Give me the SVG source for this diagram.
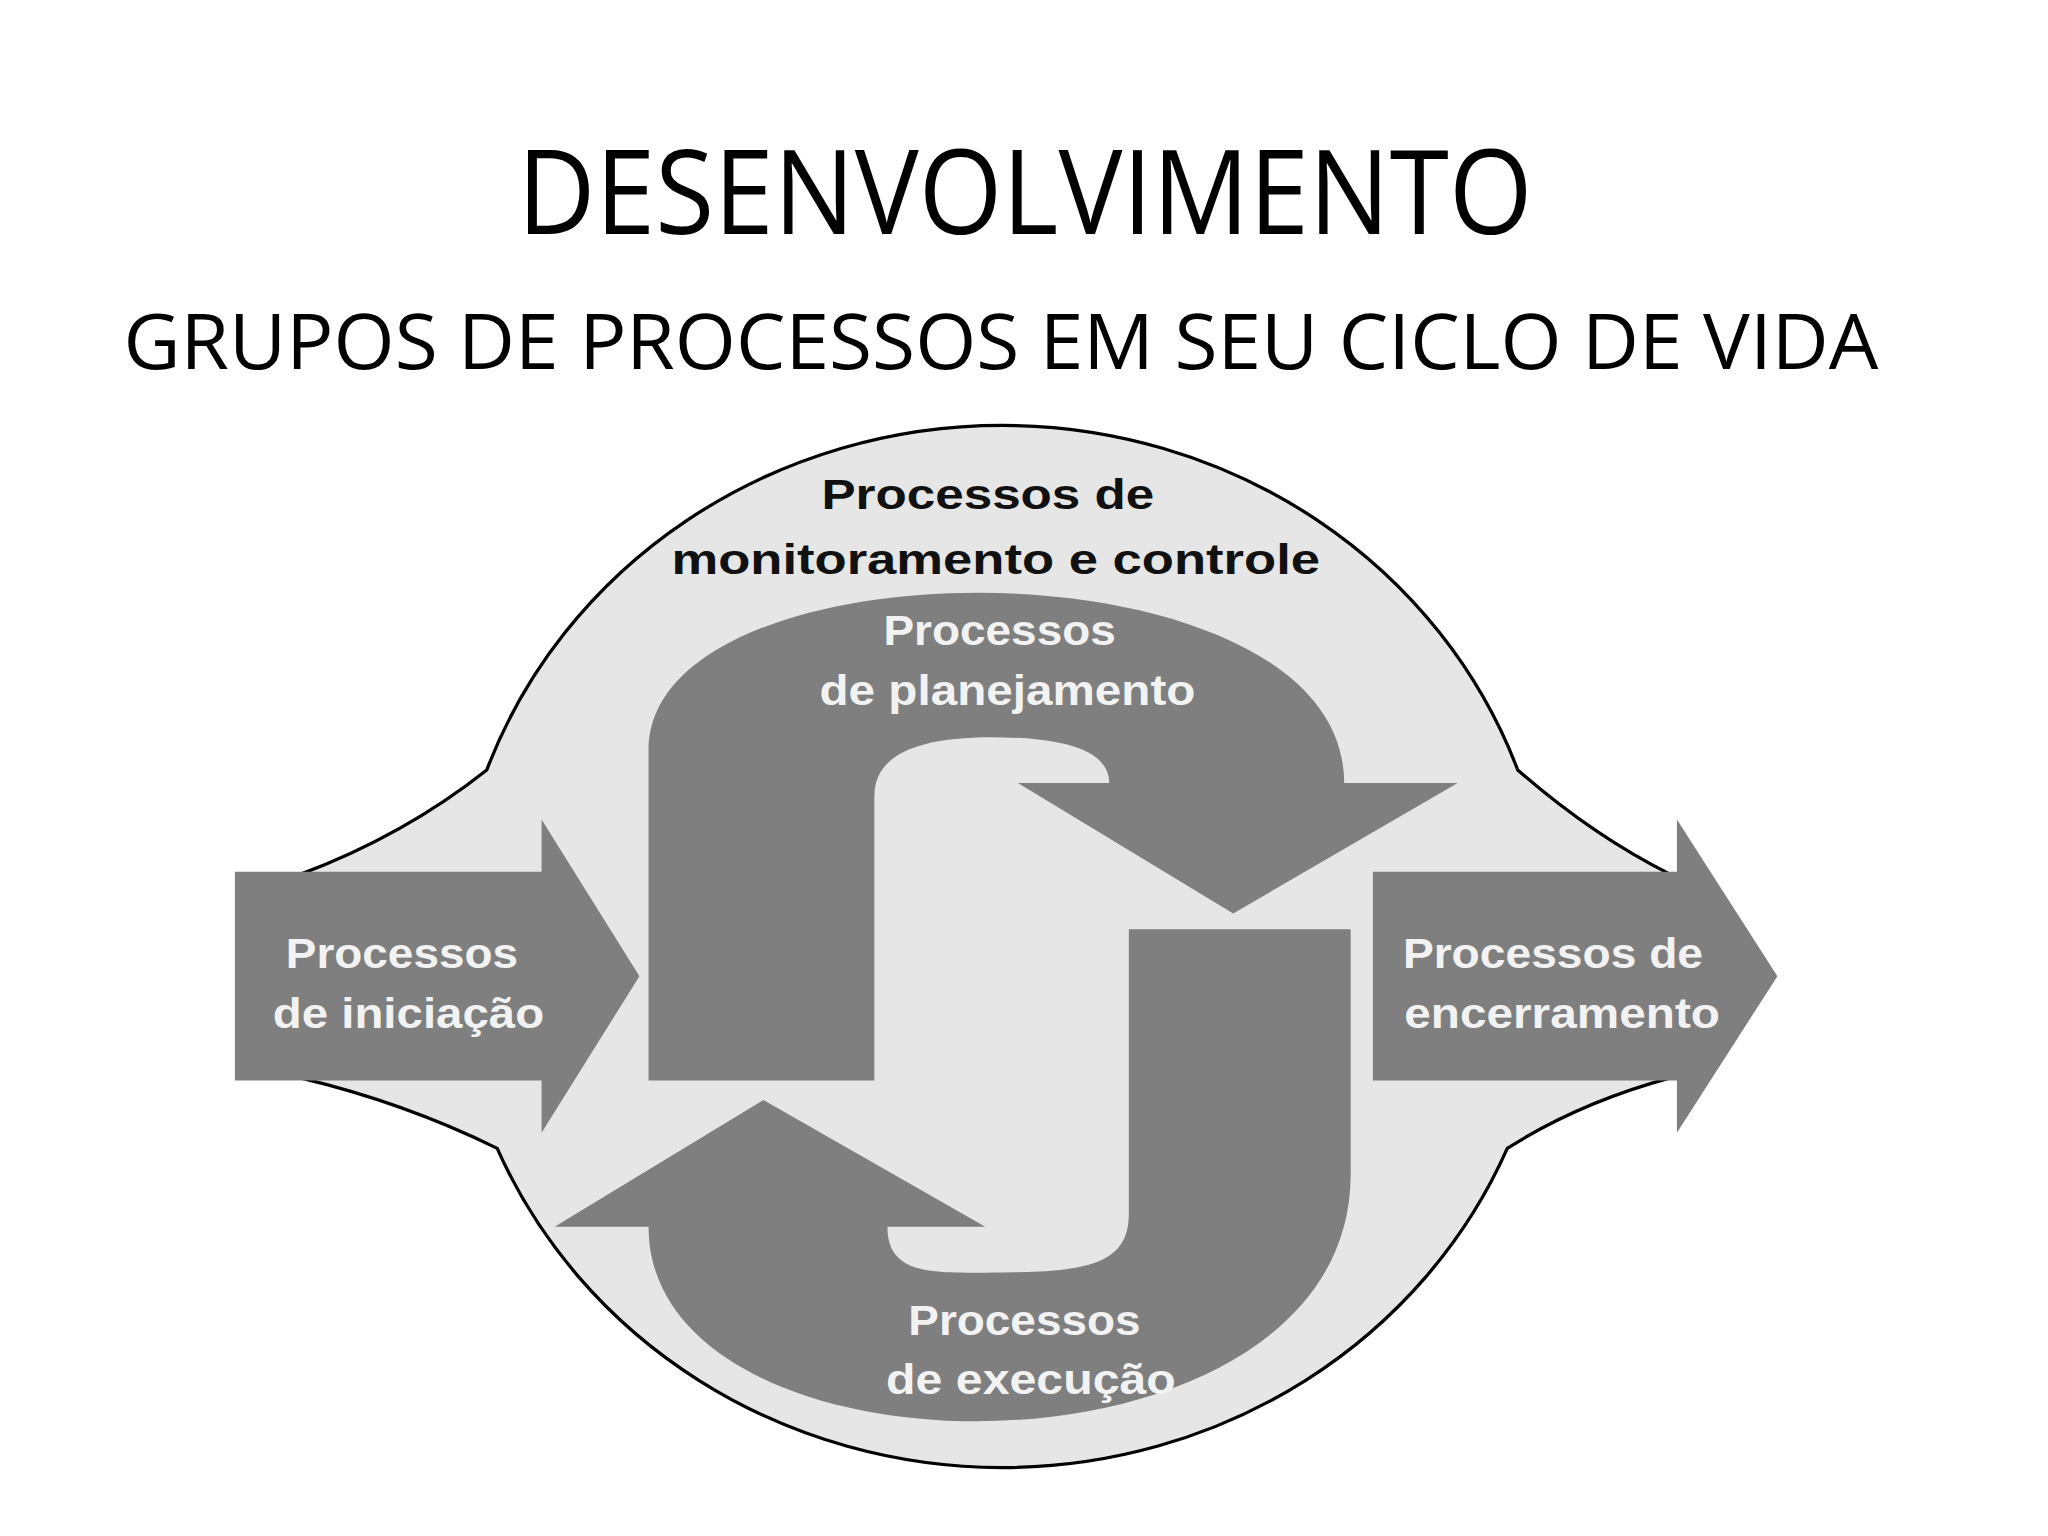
<svg xmlns="http://www.w3.org/2000/svg" width="2048" height="1536" viewBox="0 0 2048 1536">
<style>
.t{font-family:"Open Sans","DejaVu Sans",sans-serif;fill:#000;text-anchor:middle}
.l{font-family:"Liberation Sans",Arial,sans-serif;font-weight:bold;font-size:32px;text-anchor:middle;fill:#f2f2f2}
.g{fill:#7f7f7f}
</style>
<rect width="2048" height="1536" fill="#fff"/>
<text class="t" x="1025" y="234" font-size="118" textLength="1015" lengthAdjust="spacingAndGlyphs">DESENVOLVIMENTO</text>
<text class="t" x="1001" y="369" font-size="76" textLength="1755" lengthAdjust="spacingAndGlyphs">GRUPOS DE PROCESSOS EM SEU CICLO DE VIDA</text>
<g transform="scale(1.305)">
<g id="ciclo">
<path d="M230,670 Q310,640 373,590 A420,400 0 0 1 1163,590 Q1220,640 1280,670 L1280,826 Q1210,845 1155,880 A420,400 0 0 1 381,880 Q310,845 230,826 Z" fill="#e6e6e6" stroke="#000" stroke-width="2.5"/>
<text class="l" x="757" y="390" style="fill:#111" textLength="255" lengthAdjust="spacingAndGlyphs">Processos de</text>
<text class="l" x="763" y="440" style="fill:#111" textLength="497" lengthAdjust="spacingAndGlyphs">monitoramento e controle</text>
</g>
<g id="iniciacao">
<path class="g" d="M180,668 L415,668 L415,628 L490,748 L415,868 L415,828 L180,828 Z"/>
<text class="l" x="308" y="742" textLength="178" lengthAdjust="spacingAndGlyphs">Processos</text>
<text class="l" x="313" y="788" textLength="208" lengthAdjust="spacingAndGlyphs">de iniciação</text>
</g>
<g id="encerramento">
<path class="g" d="M1052,668 L1285,668 L1285,628 L1362,748 L1285,868 L1285,828 L1052,828 Z"/>
<text class="l" x="1190" y="742" textLength="230" lengthAdjust="spacingAndGlyphs">Processos de</text>
<text class="l" x="1197" y="788" textLength="242" lengthAdjust="spacingAndGlyphs">encerramento</text>
</g>
<g id="planejamento">
<path class="g" d="M497,828 L497,575 C497,410 1030,410 1030,600 L1117,600 L945,700 L780,600 L850,600 C850,570 800,565 760,565 C700,565 670,580 670,610 L670,828 Z"/>
<text class="l" x="766" y="494" textLength="178" lengthAdjust="spacingAndGlyphs">Processos</text>
<text class="l" x="772" y="540" textLength="288" lengthAdjust="spacingAndGlyphs">de planejamento</text>
</g>
<g id="execucao">
<path class="g" d="M865,712 L1035,712 L1035,900 C1035,1145 497,1145 497,940 L425,940 L585,843 L755,940 L680,940 C680,980 720,975 770,975 C840,975 865,965 865,930 Z"/>
<text class="l" x="785" y="1023" textLength="178" lengthAdjust="spacingAndGlyphs">Processos</text>
<text class="l" x="790" y="1068" textLength="222" lengthAdjust="spacingAndGlyphs">de execução</text>
</g>
<g id="connectors"/>
</g>
</svg>
